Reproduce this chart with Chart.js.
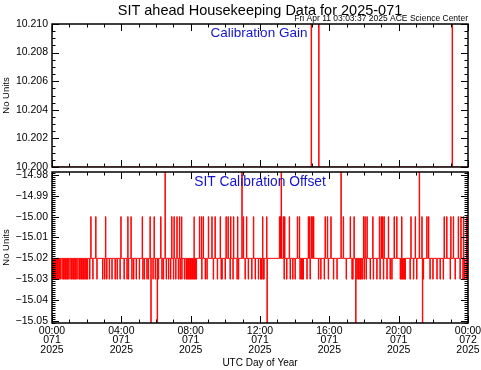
<!DOCTYPE html>
<html>
<head>
<meta charset="utf-8">
<script src="https://cdn.jsdelivr.net/npm/chart.js@4.4.1/dist/chart.umd.min.js"></script>
<style>
  body { margin: 0; background: #fff; }
  #wrap { position: relative; width: 481px; height: 370px; }
  canvas { position: absolute; left: 0; }
  #gainChart { top: 0; }
  #offsetChart { top: 170px; }
</style>
</head>
<body>
<div id="wrap">
  <canvas id="gainChart" width="481" height="170"></canvas>
  <canvas id="offsetChart" width="481" height="200"></canvas>
</div>
<script>
// time axis, minutes of day 071
const xTickMinutes = [0, 240, 480, 720, 960, 1200, 1440];
const xTickTimes = ["00:00", "04:00", "08:00", "12:00", "16:00", "20:00", "00:00"];
const xTickDays = ["071", "071", "071", "071", "071", "071", "072"];
const xTickYears = ["2025", "2025", "2025", "2025", "2025", "2025", "2025"];

const gainTicks = [10.200, 10.202, 10.204, 10.206, 10.208, 10.210];
const offsetTicks = [-15.05, -15.04, -15.03, -15.02, -15.01, -15.00, -14.99, -14.98];

// calibration gain: flat, with a few single-sample jumps off the top
const gainBase = 10.200;
const gainSpikeLevel = 10.215;
const gainSpikeMinutes = [897, 923, 1385];

// calibration offset: sits at -15.02 and flickers to the levels below
const offsetBase = -15.02;
const offsetUpLevel = -15.00;
const offsetDownLevel = -15.03;
const offsetHighLevel = -14.97;
const offsetLowLevel = -15.06;

const offsetUpMinutes = [134, 151, 185, 238, 262, 273, 312, 339, 353, 376, 414, 422, 432, 441, 449,
  492, 510, 517, 523, 541, 553, 564, 582, 602, 609, 618, 628, 642, 662, 673, 697, 729, 743, 787,
  791, 800, 805, 821, 849, 856, 887, 891, 897, 901, 905, 945, 953, 965, 1008, 1032, 1045, 1078,
  1083, 1090, 1110, 1133, 1139, 1144, 1149, 1164, 1184, 1193, 1210, 1242, 1257, 1280, 1297, 1303,
  1357, 1366, 1380, 1389, 1406, 1415, 1424, 1435];

const offsetDownMinutes = [2, 5, 9, 12, 16, 19, 23, 26, 30, 37, 40, 44, 47, 51, 54, 58, 65, 68, 72,
  75, 79, 82, 86, 93, 96, 100, 103, 107, 110, 114, 118, 122, 130, 141, 155, 175, 182, 189, 198,
  207, 218, 225, 235, 249, 259, 264, 276, 282, 291, 302, 314, 319, 328, 333, 349, 357, 368, 380,
  385, 395, 403, 410, 420, 428, 437, 443, 449, 458, 464, 467, 471, 474, 478, 481, 485, 488, 492,
  495, 499, 518, 530, 536, 558, 572, 585, 588, 599, 616, 626, 640, 645, 668, 679, 691, 703, 714,
  722, 725, 730, 733, 803, 812, 824, 833, 841, 858, 862, 866, 869, 882, 893, 922, 930, 942, 956,
  974, 986, 1018, 1038, 1041, 1055, 1059, 1062, 1066, 1069, 1073, 1080, 1087, 1101, 1112, 1124,
  1135, 1147, 1159, 1170, 1176, 1205, 1208, 1212, 1215, 1219, 1222, 1239, 1251, 1262, 1285, 1308,
  1318, 1332, 1343, 1354, 1378, 1395, 1412, 1422, 1426, 1433, 1438];

const offsetHighMinutes = [391, 657, 793, 1000, 1271];
const offsetLowMinutes = [342, 364, 744, 1051, 1282];

const RED = "rgb(255,0,0)";
const BLUE = "rgb(20,20,200)";
const FONT = "'Liberation Sans', Arial, sans-serif";

Chart.defaults.color = "#000";
Chart.defaults.font.family = FONT;

// each spike lasts one sample, then the value drops back to the base
function stepSeries(base, groups) {
  const events = [];
  groups.forEach(([minutes, level]) => minutes.forEach((m) => events.push([m, level])));
  events.sort((a, b) => a[0] - b[0]);
  const pts = [{ x: 0, y: base }];
  events.forEach(([m, level], i) => {
    const next = i + 1 < events.length ? events[i + 1][0] : 1440;
    pts.push({ x: m, y: level });
    pts.push({ x: Math.min(m + 1.5, next), y: base });
  });
  pts.push({ x: 1440, y: base });
  return pts;
}

const gainPoints = stepSeries(gainBase, [[gainSpikeMinutes, gainSpikeLevel]]);
const offsetPoints = stepSeries(offsetBase, [
  [offsetUpMinutes, offsetUpLevel],
  [offsetDownMinutes, offsetDownLevel],
  [offsetHighMinutes, offsetHighLevel],
  [offsetLowMinutes, offsetLowLevel],
]);

// IDL style box with inward ticks on all four sides
const idlFrame = {
  id: "idlFrame",
  afterDatasetsDraw(chart, args, opts) {
    const { ctx, chartArea: a, scales: { x, y } } = chart;
    ctx.save();
    ctx.strokeStyle = "#000";
    ctx.lineWidth = 1;
    ctx.beginPath();
    for (let m = x.min; m <= x.max; m += opts.xMinor) {
      const px = Math.round(x.getPixelForValue(m)) + 0.5;
      const len = m % opts.xMajor === 0 ? 7 : 3.5;
      ctx.moveTo(px, a.bottom);
      ctx.lineTo(px, a.bottom - len);
      ctx.moveTo(px, a.top);
      ctx.lineTo(px, a.top + len);
    }
    const k0 = Math.ceil(y.min / opts.yMinor - 1e-6);
    const k1 = Math.floor(y.max / opts.yMinor + 1e-6);
    for (let k = k0; k <= k1; k++) {
      const v = k * opts.yMinor;
      const r = v / opts.yMajor;
      const major = Math.abs(r - Math.round(r)) < 1e-4;
      const py = Math.round(y.getPixelForValue(v)) + 0.5;
      const len = major ? 7 : 3.5;
      ctx.moveTo(a.left, py);
      ctx.lineTo(a.left + len, py);
      ctx.moveTo(a.right, py);
      ctx.lineTo(a.right - len, py);
    }
    ctx.stroke();
    ctx.lineWidth = 1.5;
    ctx.strokeRect(a.left, a.top, a.right - a.left, a.bottom - a.top);
    ctx.restore();
  },
};

const idlText = {
  id: "idlText",
  afterDraw(chart, args, opts) {
    const { ctx } = chart;
    ctx.save();
    opts.items.forEach((it) => {
      ctx.font = it.font;
      ctx.fillStyle = it.color;
      ctx.textAlign = it.align;
      ctx.textBaseline = "middle";
      ctx.fillText(it.text, it.x, it.y);
    });
    ctx.restore();
  },
};

const tickFont = { size: 10.5, family: FONT };
const minus = (s) => s.replace("-", "\u2212");

function yAxis(min, max, ticks, digits) {
  return {
    min: min,
    max: max,
    afterBuildTicks: (s) => { s.ticks = ticks.map((v) => ({ value: v })); },
    afterFit: (s) => { s.width = 52; s.paddingTop = 0; s.paddingBottom = 0; },
    ticks: { callback: (v) => minus(v.toFixed(digits)), font: tickFont, padding: 4 },
    grid: { display: false, drawTicks: false },
    border: { display: false },
    title: { display: true, text: "No Units", font: { size: 9.5, family: FONT }, padding: { top: 1, bottom: 0 } },
  };
}

new Chart(document.getElementById("gainChart"), {
  type: "line",
  data: {
    datasets: [{ data: gainPoints, borderColor: RED, borderWidth: 1, pointRadius: 0, stepped: true, fill: false }],
  },
  options: {
    responsive: false,
    animation: false,
    devicePixelRatio: 1,
    layout: { padding: { top: 24, right: 13, bottom: 3, left: 0 } },
    plugins: {
      legend: { display: false },
      tooltip: { enabled: false },
      idlFrame: { xMinor: 60, xMajor: 240, yMinor: 0.0005, yMajor: 0.002 },
      idlText: {
        items: [
          { text: "SIT ahead Housekeeping Data for 2025-071", x: 260, y: 11, font: "14.5px " + FONT, color: "#000", align: "center" },
          { text: "Fri Apr 11 03:03:37 2025 ACE Science Center", x: 468, y: 19, font: "8.5px " + FONT, color: "#000", align: "right" },
          { text: "Calibration Gain", x: 259, y: 33, font: "13.5px " + FONT, color: BLUE, align: "center" },
        ],
      },
    },
    scales: {
      x: { type: "linear", min: 0, max: 1440, display: false },
      y: yAxis(10.2, 10.21, gainTicks, 3),
    },
  },
  plugins: [idlFrame, idlText],
});

new Chart(document.getElementById("offsetChart"), {
  type: "line",
  data: {
    datasets: [{ data: offsetPoints, borderColor: RED, borderWidth: 1, pointRadius: 0, stepped: true, fill: false }],
  },
  options: {
    responsive: false,
    animation: false,
    devicePixelRatio: 1,
    layout: { padding: { top: 2, right: 13, bottom: 0, left: 0 } },
    plugins: {
      legend: { display: false },
      tooltip: { enabled: false },
      idlFrame: { xMinor: 60, xMajor: 240, yMinor: 0.001, yMajor: 0.01 },
      idlText: {
        items: [
          { text: "SIT Calibration Offset", x: 260, y: 12, font: "13.8px " + FONT, color: BLUE, align: "center" },
        ],
      },
    },
    scales: {
      x: {
        type: "linear",
        min: 0,
        max: 1440,
        afterBuildTicks: (s) => { s.ticks = xTickMinutes.map((v) => ({ value: v })); },
        afterFit: (s) => { s.height = 47; s.paddingLeft = 0; s.paddingRight = 0; },
        ticks: {
          autoSkip: false,
          maxRotation: 0,
          padding: 3,
          font: { size: 10.5, family: FONT, lineHeight: 0.92 },
          callback: (v) => {
            const i = xTickMinutes.indexOf(v);
            return [xTickTimes[i], xTickDays[i], xTickYears[i]];
          },
        },
        grid: { display: false, drawTicks: false },
        border: { display: false },
        title: { display: true, text: "UTC Day of Year", font: { size: 10, family: FONT }, padding: { top: 0, bottom: 1 } },
      },
      y: yAxis(-15.051, -14.9786, offsetTicks, 2),
    },
  },
  plugins: [idlFrame, idlText],
});
</script>
</body>
</html>
